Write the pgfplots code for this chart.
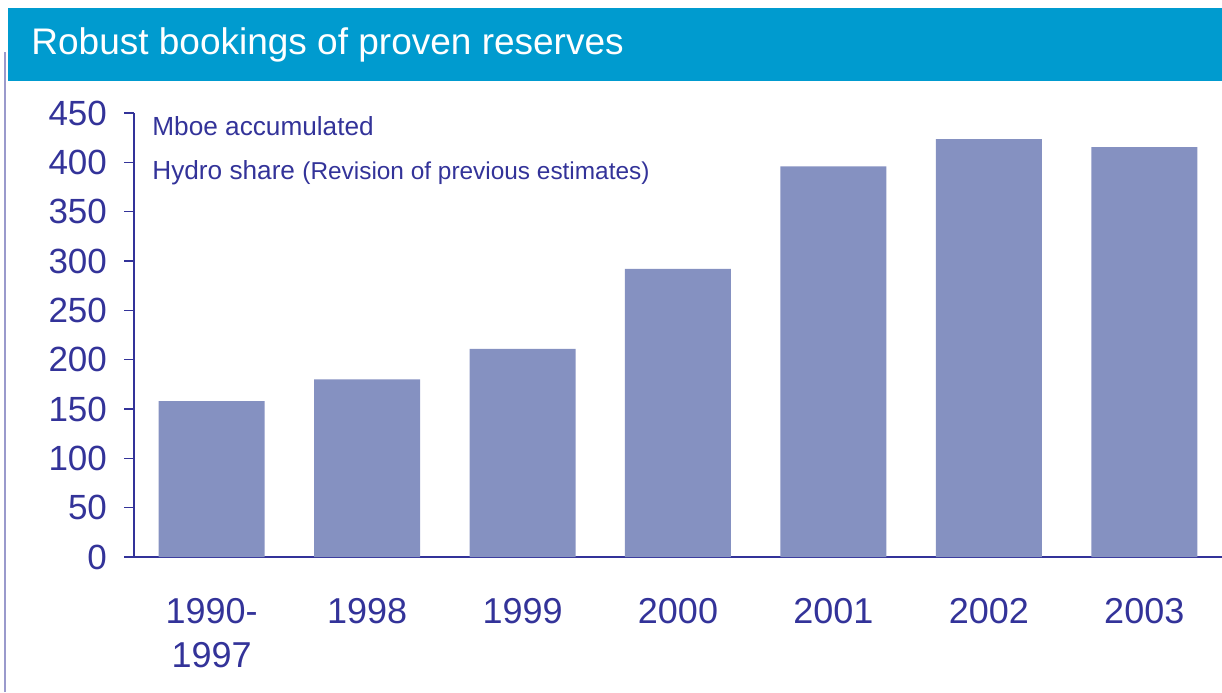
\documentclass[border=0pt]{standalone}
\usepackage{fontspec}
\setmainfont{Liberation Sans}
\usepackage{pgfplots}
\pgfplotsset{compat=1.18}
\definecolor{titlebar}{HTML}{009BCF}
\definecolor{txt}{HTML}{333399}
\definecolor{barc}{HTML}{8591C1}
\definecolor{framec}{HTML}{9A9ACC}
\begin{document}
\begin{tikzpicture}[x=0.5pt,y=0.5pt]
\path[use as bounding box] (0,0) rectangle (1222,692);
\fill[titlebar] (8,611) rectangle (1222,684);
\draw[framec, line width=1pt] (5,0) -- (5,640);
\node[anchor=base west, text=white, font=\fontsize{18.5}{22}\selectfont, inner sep=0] at (31,637) {Robust bookings of proven reserves};
\begin{axis}[
  at={(67pt,67.5pt)}, anchor=south west,
  scale only axis, width=544pt, height=222pt,
  xmin=-0.5, xmax=6.5, ymin=0, ymax=450,
  axis x line*=bottom, axis y line*=left,
  axis line style={txt, line width=0.8pt},
  ytick={0,50,...,450},
  xtick={0,...,6},
  xticklabels={{1990-\\1997},1998,1999,2000,2001,2002,2003},
  xtick style={draw=none},
  ytick style={txt, line width=0.8pt},
  tick align=outside, major tick length=5pt,
  /pgf/number format/assume math mode=true,
  yticklabel style={font=\fontsize{17.5}{21}\selectfont, text=txt, xshift=-5pt},
  xticklabel style={font=\fontsize{18}{22}\selectfont, text=txt, align=center, yshift=-12pt},
  ybar, bar width=53pt,
]
\addplot[fill=barc, draw=none] coordinates {(0,158) (1,180) (2,211) (3,292) (4,396) (5,423.5) (6,415.5)};
\end{axis}
\node[anchor=base west, text=txt, font=\fontsize{13.1}{16}\selectfont, inner sep=0] at (152,556) {Mboe accumulated};
\node[anchor=base west, text=txt, font=\fontsize{13.1}{16}\selectfont, inner sep=0] at (152,512) {Hydro share {\fontsize{12.2}{15}\selectfont(Revision of previous estimates)}};
\end{tikzpicture}
\end{document}
